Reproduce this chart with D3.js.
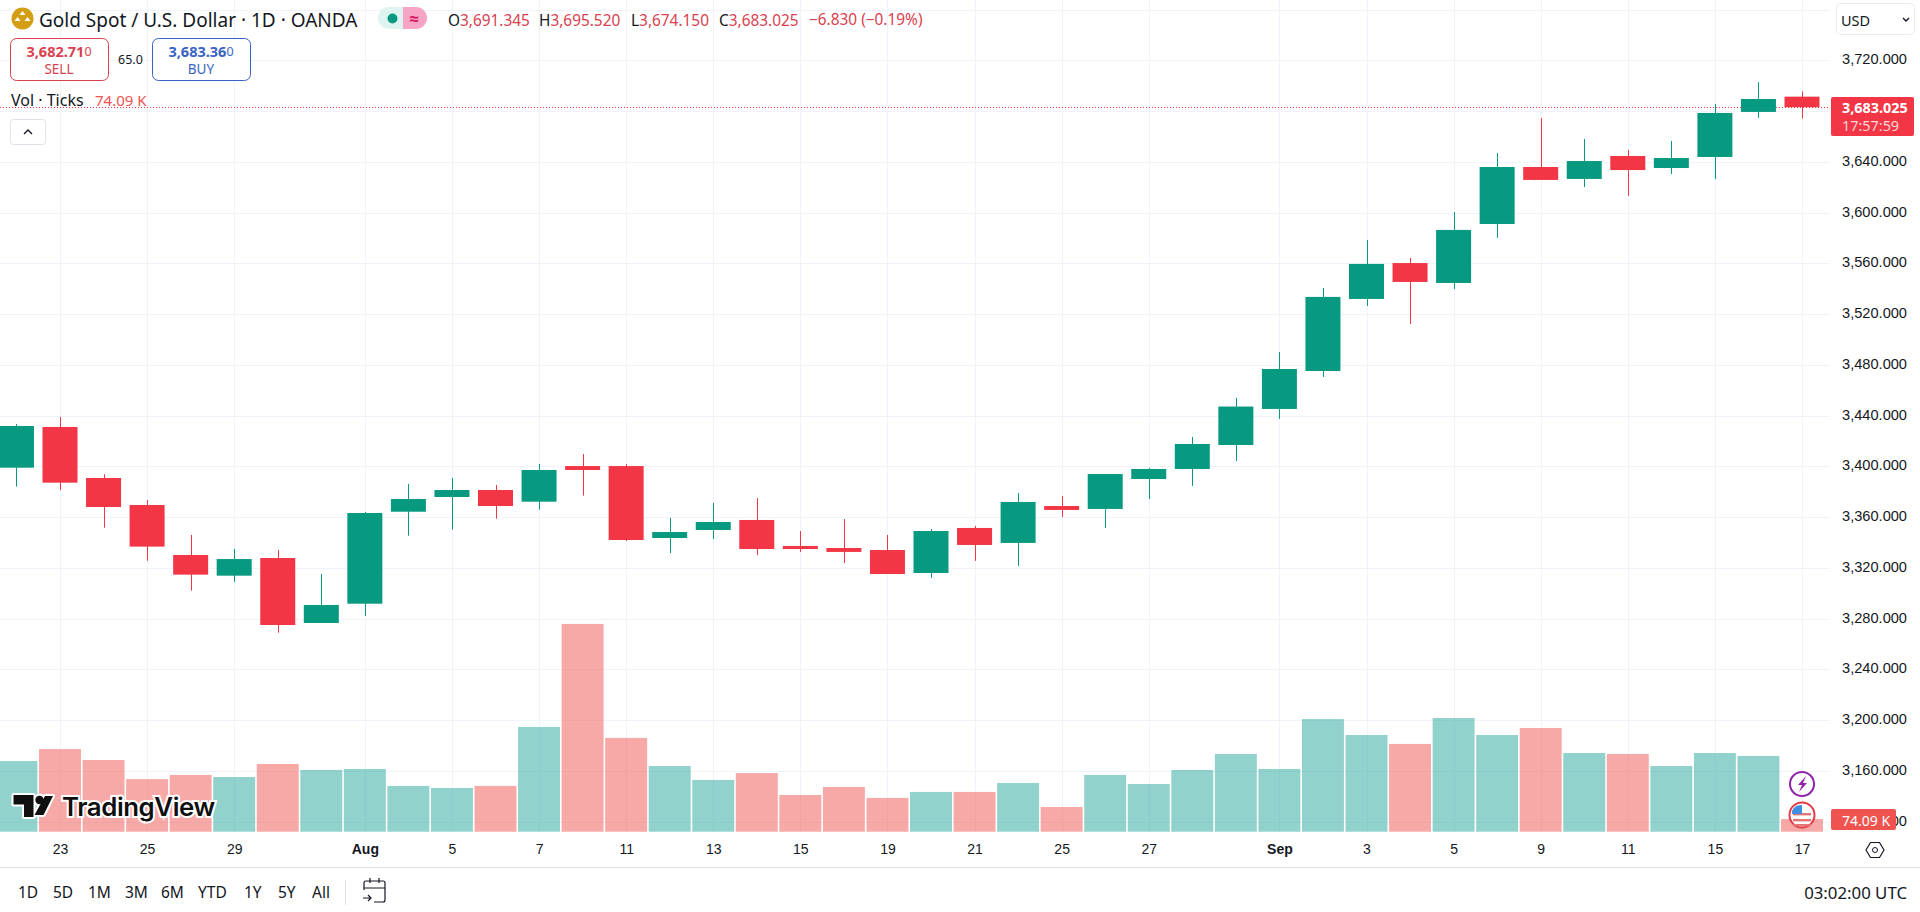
<!DOCTYPE html>
<html><head><meta charset="utf-8">
<script src="https://cdnjs.cloudflare.com/ajax/libs/d3/7.8.5/d3.min.js"></script>
<style>
html,body{margin:0;padding:0;background:#fff;overflow:hidden}
svg{display:block;font-family:"Noto Sans","Open Sans",sans-serif}
.domain{display:none}
</style></head><body>
<svg id="c" width="1920" height="912"></svg>
<script>
const dates=["Jul 22","Jul 23","Jul 24","Jul 25","Jul 28","Jul 29","Jul 30","Jul 31","Aug 1","Aug 4","Aug 5","Aug 6","Aug 7","Aug 8","Aug 11","Aug 12","Aug 13","Aug 14","Aug 15","Aug 18","Aug 19","Aug 20","Aug 21","Aug 22","Aug 25","Aug 26","Aug 27","Aug 28","Aug 29","Sep 1","Sep 2","Sep 3","Sep 4","Sep 5","Sep 8","Sep 9","Sep 10","Sep 11","Sep 12","Sep 15","Sep 16","Sep 17"];
const opens=[3398.9,3431.0,3390.8,3369.5,3330.1,3313.8,3327.7,3276.5,3291.7,3364.2,3375.8,3381.3,3372.1,3400.2,3400.2,3343.5,3349.8,3357.7,3337.2,3335.6,3334,3315.9,3351.4,3339.6,3368.7,3366.4,3390,3397.9,3416.8,3445.2,3475.1,3531.9,3560.2,3544.5,3591,3635.9,3626.5,3644.6,3635.1,3643.8,3679.3,3691.345];
const highs=[3433.3,3438.9,3393.7,3373.4,3345.9,3334.8,3334.0,3315.1,3364.0,3386.1,3390.8,3385.3,3401.8,3409.7,3401.8,3359.3,3371.1,3375,3349,3358.5,3345.9,3350.6,3353,3379,3376.6,3393.9,3398.7,3423.1,3453.9,3490.1,3540.5,3578.4,3564.2,3600.4,3646.9,3674.5,3658,3649.3,3656.4,3685.6,3702.9,3695.52];
const lows=[3384.0,3381.3,3351.6,3325.6,3302.0,3308.8,3268.9,3276.5,3282.0,3345.3,3350.1,3358.7,3365.8,3376.9,3341.1,3331.7,3342.7,3330.1,3332.5,3323.8,3315.1,3312,3325.4,3321.4,3360,3351.4,3374.2,3384.5,3404.2,3437.3,3470.4,3526.4,3512.2,3539.8,3580,3625.7,3620.1,3613.1,3630.4,3626.5,3674.5,3674.15];
const closes=[3431.8,3387.1,3367.9,3336.7,3314.6,3326.9,3274.9,3290.7,3363.2,3374.2,3381.3,3368.7,3397.1,3397.1,3341.9,3348.2,3356.1,3334.8,3334.8,3332.5,3315.1,3349,3338,3371.9,3365.6,3393.9,3397.9,3417.6,3447.1,3476.7,3533.5,3559.5,3545.3,3586.3,3635.9,3625.7,3640.6,3633.5,3643,3678.5,3689.5,3683.025];
const volumesK=[412,482,418,307,331,319,395,360,366,267,255,267,611,1212,547,383,302,342,214,261,197,232,232,284,144,331,278,360,453,366,657,564,512,663,564,605,459,453,383,459,442,74.09];
const upFlags=closes.map((c,i)=>c>=opens[i]);
const gridPrices=[3760,3720,3680,3640,3600,3560,3520,3480,3440,3400,3360,3320,3280,3240,3200,3160,3120];
const priceTicks=[3720,3640,3600,3560,3520,3480,3440,3400,3360,3320,3280,3240,3200,3160,3120];
const timeTickDates=["Jul 23","Jul 25","Jul 29","Aug 1","Aug 5","Aug 7","Aug 11","Aug 13","Aug 15","Aug 19","Aug 21","Aug 25","Aug 27","Sep 1","Sep 3","Sep 5","Sep 9","Sep 11","Sep 15","Sep 17"];
const timeTickLabels=["23","25","29","Aug","5","7","11","13","15","19","21","25","27","Sep","3","5","9","11","15","17"];
const rangeButtons=["1D","5D","1M","3M","6M","YTD","1Y","5Y","All"];
const lastPrice=3683.025;
const lastVolume=74.09;

const UP="#089981",DN="#F23645",GRID="#f0f3fa";
const svg=d3.select("#c");
const x=d3.scaleLinear().domain([0,41]).range([16.45,1802]);
const y=d3.scaleLinear().domain([3720,3160]).range([60.3,770.8]);
const yv=d3.scaleLinear().domain([0,1400]).range([831.7,591.7]);
const rows=dates.map((d,i)=>({d,i,o:opens[i],h:highs[i],l:lows[i],c:closes[i],v:volumesK[i],up:upFlags[i]}));
const tickIdx=timeTickDates.map(d=>dates.indexOf(d));
const plotR=1830;

// grid
svg.append("g").selectAll("line").data(gridPrices).join("line")
 .attr("x1",0).attr("x2",plotR).attr("y1",d=>Math.round(y(d))+.5).attr("y2",d=>Math.round(y(d))+.5)
 .attr("stroke",GRID);
svg.append("g").selectAll("line").data(tickIdx).join("line")
 .attr("y1",0).attr("y2",832).attr("x1",d=>Math.round(x(d))+.5).attr("x2",d=>Math.round(x(d))+.5)
 .attr("stroke",GRID);

// volume
const vw=x(1)-x(0)-1.6;
svg.append("g").selectAll("rect").data(rows).join("rect")
 .attr("x",d=>x(d.i)-vw/2).attr("width",vw)
 .attr("y",d=>yv(d.v)).attr("height",d=>yv(0)-yv(d.v))
 .attr("fill",d=>d.up?"rgba(38,166,154,.5)":"rgba(239,83,80,.5)");

// last price dotted
svg.append("line").attr("x1",0).attr("x2",plotR).attr("y1",Math.round(y(lastPrice))+.5).attr("y2",Math.round(y(lastPrice))+.5)
 .attr("stroke",DN).attr("stroke-dasharray","1 2");

// candles
const bw=35;
const gc=svg.append("g").selectAll("g").data(rows).join("g");
gc.append("line").attr("x1",d=>Math.round(x(d.i))+.5).attr("x2",d=>Math.round(x(d.i))+.5)
 .attr("y1",d=>y(d.h)).attr("y2",d=>y(d.l)).attr("stroke",d=>d.up?UP:DN).attr("stroke-width",1);
gc.append("rect").attr("x",d=>x(d.i)-bw/2).attr("width",bw)
 .attr("y",d=>y(Math.max(d.o,d.c))).attr("height",d=>Math.max(1,Math.abs(y(d.o)-y(d.c))))
 .attr("fill",d=>d.up?UP:DN);

// axes
const ax=svg.append("g").attr("transform",`translate(${plotR},0)`)
 .call(d3.axisRight(y).tickValues(priceTicks).tickSize(0).tickFormat(d3.format(",.3f")));
ax.selectAll("text").attr("x",77).attr("text-anchor","end").attr("font-size",14.6).attr("font-family",null).attr("dy",".24em").attr("fill","#131722");
const at=svg.append("g").attr("transform","translate(0,832)")
 .call(d3.axisBottom(x).tickValues(tickIdx).tickSize(0).tickPadding(12).tickFormat((d,i)=>timeTickLabels[i]));
at.selectAll("text").attr("font-size",14).attr("font-family",null).attr("fill","#131722")
 .attr("font-weight",(d,i)=>/[A-Z]/.test(timeTickLabels[i])?700:400);

// bottom divider
svg.append("line").attr("x1",0).attr("x2",1920).attr("y1",867.5).attr("y2",867.5).attr("stroke","#e0e3eb");

// header
const T=(s,px,py,size,fill,opt={})=>{const t=svg.append("text").attr("x",px).attr("y",py).attr("font-size",size).attr("fill",fill||"#131722").attr("dominant-baseline","central").text(s);
 if(opt.w)t.attr("font-weight",opt.w); if(opt.a)t.attr("text-anchor",opt.a); return t;};
svg.append("circle").attr("cx",22.5).attr("cy",18.5).attr("r",11).attr("fill","#d39e14");
svg.append("path").attr("d","M22.5 11l3 4h-6zM17.5 17l3 4h-6zM27.5 17l3 4h-6z").attr("fill","#fff");
T("Gold Spot / U.S. Dollar · 1D · OANDA",39,19.5,19);
svg.append("path").attr("d","M389 7h14v22h-14a11 11 0 0 1 0-22z").attr("fill","#dff4f1");
svg.append("path").attr("d","M403 7h13a11 11 0 0 1 0 22h-13z").attr("fill","#f7a5c5");
svg.append("circle").attr("cx",392.5).attr("cy",18.5).attr("r",5).attr("fill",UP);
T("≈",414,18,17,"#d81b60",{a:"middle",w:700});
const R="#d9414f";
[["O","3,691.345",448],["H","3,695.520",539],["L","3,674.150",631],["C","3,683.025",719]].forEach(([k,v,px])=>{
 const t=T("",px,19.5,15.4);
 t.append("tspan").text(k); t.append("tspan").attr("fill",R).attr("dx",0).text(v);
});
T("−6.830 (−0.19%)",809,19.5,15.4,R);

// buy/sell
const box=(bx,w,col,main,small,lab)=>{
 svg.append("rect").attr("x",bx+.5).attr("y",38.5).attr("width",w).attr("height",42).attr("rx",6).attr("fill","#fff").attr("stroke",col);
 const t=T("",bx+w/2,51,14.5,col,{a:"middle"});
 t.append("tspan").attr("font-weight",700).text(main); t.append("tspan").attr("font-size",12.5).text(small);
 T(lab,bx+w/2,68.5,13.5,col,{a:"middle"});
};
box(10,98,"#d9414f","3,682.71","0","SELL");
T("65.0",118,59,12.5);
box(152,98,"#3b63c4","3,683.36","0","BUY");

T("Vol · Ticks",11,100,16);
T("74.09 K",95,100,15,"#ef5350");

// collapse button
svg.append("rect").attr("x",10.5).attr("y",119.5).attr("width",35).attr("height",25).attr("rx",3).attr("fill","#fff").attr("stroke","#e0e3eb");
svg.append("path").attr("d","M24 134l4-4 4 4").attr("fill","none").attr("stroke","#131722").attr("stroke-width",1.4);

// USD
svg.append("rect").attr("x",1836.5).attr("y",3.5).attr("width",78).attr("height",31).attr("rx",4).attr("fill","#fff").attr("stroke","#e9ecf2");
T("USD",1841,19.5,14.5);
svg.append("path").attr("d","M1903 18l3 3 3-3").attr("fill","none").attr("stroke","#131722").attr("stroke-width",1.4);

// price tag
svg.append("rect").attr("x",1831).attr("y",97).attr("width",83).attr("height",39).attr("rx",2).attr("fill",DN);
T("3,683.025",1842,107,14.4,"#fff",{w:700});
T("17:57:59",1842,125,14.4,"#ffd6da");

// volume tag
svg.append("rect").attr("x",1831).attr("y",809).attr("width",65).attr("height",21).attr("rx",2).attr("fill","#ef5350");
T(d3.format(".2f")(lastVolume)+" K",1842,820,14,"#fff");

// settings hexagon
svg.append("path").attr("d","M1866 850l4.5-7.5h9l4.5 7.5-4.5 7.5h-9z").attr("fill","none").attr("stroke","#131722").attr("stroke-width",1.2);
svg.append("circle").attr("cx",1875).attr("cy",850).attr("r",2.5).attr("fill","none").attr("stroke","#131722");

// event badges
svg.append("circle").attr("cx",1802).attr("cy",784).attr("r",12).attr("fill","#fff").attr("stroke","#8e24aa").attr("stroke-width",2);
svg.append("path").attr("d","M1806 776l-8 9h4l-3 7 8-9h-4z").attr("fill","#8e24aa");
svg.append("circle").attr("cx",1802).attr("cy",815).attr("r",12.5).attr("fill","#fff").attr("stroke","#e53945").attr("stroke-width",2);
[813,819,824].forEach(v=>svg.append("rect").attr("x",1793).attr("y",v).attr("width",18).attr("height",2.4).attr("fill","#e57373"));
svg.append("path").attr("d","M1792 814v-3a10 10 0 0 1 10-6v9z").attr("fill","#3f8fe0");

// watermark
const wm=svg.append("g");
const mark="M13.5 795h20v22h-9.5v-12.5h-10.5zM45 796h8l-9.5 19h-9z";
wm.append("path").attr("d",mark).attr("fill","#fff").attr("stroke","#fff").attr("stroke-width",4).attr("stroke-linejoin","round");
wm.append("circle").attr("cx",39.5).attr("cy",800).attr("r",4.5).attr("fill","#fff").attr("stroke","#fff").attr("stroke-width",4);
wm.append("path").attr("d",mark).attr("fill","#0f0f0f");
wm.append("circle").attr("cx",39.5).attr("cy",800).attr("r",4.2).attr("fill","#0f0f0f");
wm.append("text").attr("x",62).attr("y",806).attr("dominant-baseline","central").attr("font-family","Inter,sans-serif")
 .attr("font-size",25.8).attr("font-weight",600).attr("letter-spacing",-.4).attr("stroke","#fff").attr("stroke-width",4).attr("paint-order","stroke").attr("fill","#0f0f0f").text("TradingView");

// range buttons
const btnX=[18,53,88,125,161,198,244,278,312];
rangeButtons.forEach((b,i)=>T(b,btnX[i],892,15.5));
svg.append("line").attr("x1",345.5).attr("x2",345.5).attr("y1",880).attr("y2",905).attr("stroke","#e0e3eb");
svg.append("path").attr("d","M364 890v-7a2 2 0 0 1 2-2h17a2 2 0 0 1 2 2v17a2 2 0 0 1-2 2h-9M364 888h21M370 878v5M379 878v5M363 898h8M368 895l3 3-3 3").attr("fill","none").attr("stroke","#131722").attr("stroke-width",1.2);
T("03:02:00 UTC",1907,892,16.8,"#131722",{a:"end"});
</script></body></html>
